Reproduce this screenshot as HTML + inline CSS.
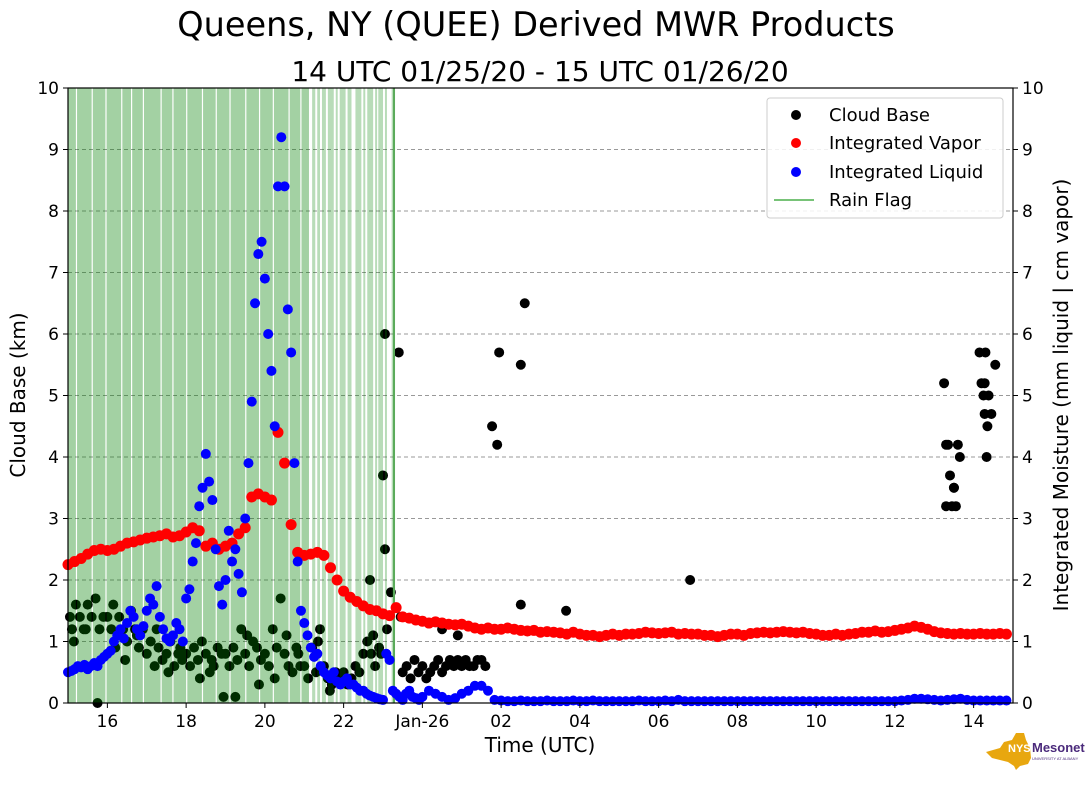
<!DOCTYPE html>
<html><head><meta charset="utf-8"><style>
body{margin:0;background:#fff;}
svg{display:block;font-family:"DejaVu Sans","Liberation Sans",sans-serif;}
</style></head><body>
<svg id="chart" width="1089" height="804" viewBox="0 0 1089 804">
<text x="536" y="36" font-size="33.5" text-anchor="middle">Queens, NY (QUEE) Derived MWR Products</text>
<text x="540" y="81" font-size="28" text-anchor="middle">14 UTC 01/25/20 - 15 UTC 01/26/20</text>
<g id="grid"></g>
<g id="cb"></g>
<g id="rain"></g>
<g id="vap"></g>
<g id="liq"></g>
<g id="axes"></g>
<text x="0" y="0" font-size="20" text-anchor="middle" transform="translate(25,395) rotate(-90)">Cloud Base (km)</text>
<text x="0" y="0" font-size="20" text-anchor="middle" transform="translate(1068,395) rotate(-90)">Integrated Moisture (mm liquid | cm vapor)</text>
<text x="540" y="752" font-size="20" text-anchor="middle">Time (UTC)</text>
<g>
<rect x="767" y="98" width="236" height="120" rx="3" fill="#fff" fill-opacity="0.85" stroke="#ccc"/>
<circle cx="796" cy="115" r="5" fill="#000"/>
<text x="829" y="121" font-size="18">Cloud Base</text>
<circle cx="796" cy="143" r="5" fill="#f00"/>
<text x="829" y="149" font-size="18">Integrated Vapor</text>
<circle cx="796" cy="172" r="5" fill="#00f"/>
<text x="829" y="178" font-size="18">Integrated Liquid</text>
<line x1="774" y1="200" x2="814" y2="200" stroke="#4caf4c" stroke-width="1.5"/>
<text x="829" y="206" font-size="18">Rain Flag</text>
</g>
<g>
<polygon points="986,752 1000,748 1004,742 1012,740 1016,733 1024,733 1026,740 1030,748 1031,758 1028,764 1020,766 1016,770 1014,766 1008,762 992,758" fill="#e8a70f"/>
<text x="1008" y="752" font-size="11" font-weight="bold" fill="#fff" font-family="Liberation Sans,sans-serif">NYS</text>
<text x="1032" y="752" font-size="13" font-weight="bold" fill="#4b2a7b" font-family="Liberation Sans,sans-serif">Mesonet</text>
<text x="1032" y="760" font-size="4" fill="#4b2a7b" font-family="Liberation Sans,sans-serif">UNIVERSITY AT ALBANY</text>
</g>
</svg>
<script>
// ---- data ----
const vapStart = 15, vapStep = 1/6;
const vapor = [
2.25,2.3,2.35,2.42,2.48,2.5,
2.48,2.5,2.55,2.6,2.62,2.65,
2.68,2.7,2.72,2.75,2.7,2.72,
2.78,2.85,2.8,2.55,2.6,2.5,
2.55,2.6,2.75,2.85,3.35,3.4,
3.35,3.3,4.4,3.9,2.9,2.45,
2.4,2.42,2.45,2.4,2.2,2.0,
1.82,1.72,1.65,1.58,1.52,1.5,
1.45,1.42,1.55,1.4,1.38,1.35,
1.33,1.3,1.32,1.3,1.28,1.27,
1.28,1.25,1.22,1.2,1.22,1.2,
1.2,1.22,1.2,1.18,1.17,1.18,
1.15,1.16,1.15,1.14,1.12,1.15,
1.12,1.1,1.1,1.08,1.1,1.12,
1.1,1.12,1.12,1.13,1.15,1.14,
1.13,1.14,1.15,1.12,1.13,1.12,
1.12,1.1,1.1,1.08,1.1,1.12,
1.12,1.1,1.13,1.14,1.15,1.14,
1.15,1.16,1.15,1.14,1.15,1.13,
1.12,1.1,1.1,1.12,1.1,1.12,
1.13,1.15,1.15,1.17,1.15,1.16,
1.18,1.2,1.22,1.25,1.23,1.2,
1.16,1.14,1.13,1.12,1.13,1.12,
1.12,1.13,1.12,1.12,1.13,1.12];
const liqEarlyStart = 15, liqEarlyStep = 1/12;
const liquidEarly = [
.5,.52,.55,.6,.58,.62,.55,.6,.65,.6,.7,.75,
.8,.85,1.0,1.1,1.2,1.05,1.3,1.5,1.4,1.2,1.1,1.25,
1.5,1.7,1.6,1.9,1.4,1.2,1.05,1.0,1.1,1.3,1.2,1.0,
1.7,1.85,2.3,2.6,3.2,3.5,4.05,3.6,3.3,2.5,1.9,1.6,
2.0,2.8,2.3,2.5,2.1,1.8,3.0,3.9,4.9,6.5,7.3,7.5,
6.9,6.0,5.4,4.5,8.4,9.2,8.4,6.4,5.7,3.9,2.3,1.5,
1.3,1.1,0.9,0.75,0.8,0.6,0.5,0.45,0.4,0.5,0.35,0.3,
0.35,0.4,0.3,0.3,0.25,0.2,0.2,0.15,0.12,0.1,0.08,0.06,
0.05,0.8,0.7,0.2,0.15,0.1,0.05,0.15,0.2,0.1,0.08,0.05];
const liqLateStart = 24, liqLateStep = 1/6;
const liquidLate = [
0.1,0.2,0.15,0.1,0.05,0.08, 0.15,0.2,0.28,0.28,0.2,0.05,
0.04,0.03,0.03,0.04,0.03,0.03, 0.03,0.04,0.03,0.03,0.03,0.04,
0.03,0.03,0.04,0.03,0.03,0.03, 0.03,0.03,0.03,0.04,0.03,0.03,
0.03,0.04,0.03,0.05,0.03,0.03, 0.03,0.03,0.03,0.03,0.03,0.03,
0.03,0.03,0.03,0.03,0.03,0.03, 0.03,0.03,0.03,0.03,0.03,0.03,
0.03,0.03,0.03,0.03,0.03,0.03, 0.03,0.03,0.03,0.03,0.03,0.03,
0.03,0.04,0.05,0.07,0.07,0.06, 0.05,0.04,0.05,0.06,0.07,0.05,
0.04,0.04,0.04,0.04,0.04,0.04];
const cbTimes = [
15.05,15.1,15.2,15.3,15.4,15.5,15.6,15.7,15.8,15.9,15.15,15.45,15.75,
16.0,16.1,16.2,16.3,16.4,16.5,16.6,16.7,16.8,16.9,16.15,16.45,16.75,
17.0,17.1,17.2,17.3,17.4,17.5,17.6,17.7,17.8,17.9,17.25,17.55,17.85,
18.0,18.1,18.2,18.3,18.4,18.5,18.6,18.7,18.8,18.9,18.35,18.65,18.95,
19.0,19.1,19.2,19.3,19.4,19.5,19.6,19.7,19.8,19.9,19.25,19.55,19.85,
20.0,20.1,20.2,20.3,20.4,20.5,20.6,20.7,20.8,20.9,20.25,20.55,20.85,
21.0,21.1,21.2,21.3,21.4,21.5,21.6,21.7,21.8,21.9,21.35,21.65,
22.0,22.1,22.2,22.3,22.4,22.5,22.6,22.7,22.8,22.9,22.67,22.75,22.95,
23.0,23.05,23.05,23.1,23.2,23.4,23.45,
23.5,23.6,23.7,23.8,23.9,24.0,24.1,24.2,24.3,24.4,24.5,24.6,24.7,24.8,24.9,25.0,25.1,25.2,25.3,25.4,25.5,25.6,24.5,24.9,
25.77,25.9,25.95,26.5,26.6,26.5,27.65,30.8,
37.25,37.3,37.35,37.3,37.4,37.45,37.5,37.55,37.5,37.6,37.65,
38.15,38.2,38.25,38.28,38.3,38.28,38.33,38.35,38.38,38.45,38.55];
const cbValues = [
1.4,1.2,1.6,1.4,1.2,1.6,1.4,1.7,1.2,1.4,1.0,1.2,0.0,
1.4,1.2,0.9,1.4,1.2,1.0,1.5,1.2,0.9,1.2,1.6,0.7,1.1,
0.8,1.0,0.6,0.9,0.7,0.8,1.0,0.6,0.8,0.7,1.2,0.5,0.9,
0.8,0.6,0.9,0.7,1.0,0.8,0.5,0.6,0.9,0.8,0.4,0.7,0.1,
0.8,0.6,0.9,0.7,1.2,0.8,0.6,1.0,0.9,0.7,0.1,1.1,0.3,
0.8,0.6,1.2,0.9,1.7,0.8,0.6,0.5,0.9,0.6,0.4,1.1,0.8,
0.6,0.4,0.9,0.5,1.2,0.6,0.4,0.3,0.5,0.4,1.0,0.2,
0.5,0.3,0.4,0.6,0.5,0.8,1.0,0.8,0.6,0.9,2.0,1.1,0.8,
3.7,6.0,2.5,1.2,1.8,5.7,1.4,
0.5,0.6,0.4,0.7,0.5,0.6,0.4,0.5,0.6,0.7,0.5,0.6,0.7,0.6,0.7,0.6,0.7,0.6,0.6,0.7,0.7,0.6,1.2,1.1,
4.5,4.2,5.7,5.5,6.5,1.6,1.5,2.0,
5.2,4.2,4.2,3.2,3.7,3.2,3.5,3.2,3.5,4.2,4.0,
5.7,5.2,5.0,4.7,5.7,5.2,4.0,4.5,5.0,4.7,5.5];
const rainStart = [15.0,15.23,15.63,15.98,16.38,16.63,16.93,17.38,17.68,18.03,18.43,18.78,19.13,19.53,19.88,20.23,20.63,20.93,
 21.2,21.33,21.45,21.6,21.8,21.9,22.1,22.3,22.5,22.6,22.8,22.88,23.05,23.22];
const rainEnd = [15.2,15.6,15.95,16.35,16.6,16.9,17.35,17.65,18.0,18.4,18.75,19.1,19.5,19.85,20.2,20.6,20.9,21.12,
 21.28,21.4,21.55,21.75,21.85,22.05,22.2,22.45,22.55,22.75,22.85,23.0,23.1,23.29];
const yTicks = [0,1,2,3,4,5,6,7,8,9,10];
const xTickHours = [16,18,20,22,24,26,28,30,32,34,36,38];
const xTickLabels = ["16","18","20","22","Jan-26","02","04","06","08","10","12","14"];

// ---- scales ----
const X0=68,X1=1013,Y0=703,Y1=88,T0=15,T1=39;
const xs = h => X0 + (h-T0)*(X1-X0)/(T1-T0);
const ys = v => Y0 - v*(Y0-Y1)/10;
const NS="http://www.w3.org/2000/svg";
function mk(tag, parent, attrs){const e=document.createElementNS(NS,tag);for(const k in attrs)e.setAttribute(k,attrs[k]);document.getElementById(parent).appendChild(e);return e;}

// grid
yTicks.forEach(v=>{ if(v>0&&v<10){
  const l=mk('line','grid',{x1:X0,x2:X1,y1:ys(v),y2:ys(v),stroke:'#999','stroke-dasharray':'4,3','stroke-width':1});
  
  
}});
// cloud base
cbTimes.forEach((t,i)=>{
  const c=mk('circle','cb',{cx:xs(t),cy:ys(cbValues[i]),r:5,fill:'#000'});
  
  
});
// rain flag (drawn over cloud base, under vapor/liquid)
for(let i=0;i<rainStart.length;i++){
  const dense = rainEnd[i] <= 21.15;
  const r = mk('rect','rain',{x:xs(rainStart[i]),y:Y1,width:Math.max(1,xs(rainEnd[i])-xs(rainStart[i])),height:Y0-Y1,fill:'#008000','fill-opacity':dense?0.36:0.28});
  
  
}
const strong=mk('line','rain',{x1:xs(23.28),x2:xs(23.28),y1:Y1,y2:Y0,stroke:'#5aaa5a','stroke-width':2});


// vapor
vapor.forEach((v,i)=>{
  const c=mk('circle','vap',{cx:xs(vapStart+i*vapStep),cy:ys(v),r:5.5,fill:'#f00'});
  
  
});
// liquid
liquidEarly.forEach((v,i)=>{
  const c=mk('circle','liq',{cx:xs(liqEarlyStart+i*liqEarlyStep),cy:ys(v),r:5,fill:'#00f'});
  
  
});
liquidLate.forEach((v,i)=>{
  const c=mk('circle','liq',{cx:xs(liqLateStart+i*liqLateStep),cy:ys(v),r:5,fill:'#00f'});
  
  
});
// axes
const fr=mk('rect','axes',{x:X0,y:Y1,width:X1-X0,height:Y0-Y1,fill:'none',stroke:'#000','stroke-width':1.2});


yTicks.forEach(v=>{
  mk('line','axes',{x1:X0-5,x2:X0,y1:ys(v),y2:ys(v),stroke:'#000'});
  mk('line','axes',{x1:X1,x2:X1+5,y1:ys(v),y2:ys(v),stroke:'#000'});
  const a=mk('text','axes',{x:X0-9,y:ys(v)+6,'font-size':17,'text-anchor':'end'});a.textContent=v;
  
  
  const b=mk('text','axes',{x:X1+9,y:ys(v)+6,'font-size':17});b.textContent=v;
  
  
});
xTickHours.forEach((h,i)=>{
  mk('line','axes',{x1:xs(h),x2:xs(h),y1:Y0,y2:Y0+5,stroke:'#000'});
  const t=mk('text','axes',{x:xs(h),y:Y0+24,'font-size':17,'text-anchor':'middle'});t.textContent=xTickLabels[i];
  
  
});
</script>
</body></html>
